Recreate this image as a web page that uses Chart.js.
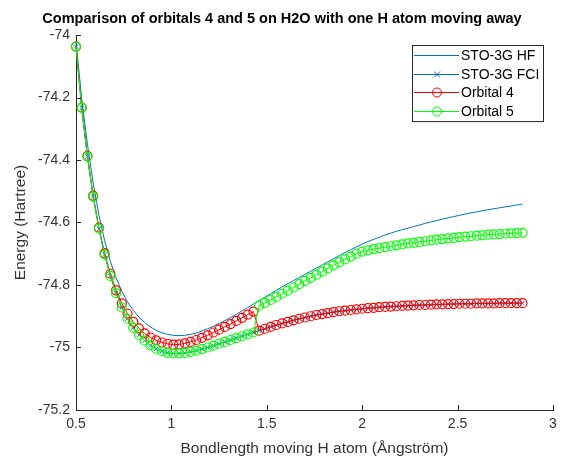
<!DOCTYPE html>
<html>
<head>
<meta charset="utf-8">
<title>Orbitals 4 and 5 on H2O</title>
<script src="https://cdn.jsdelivr.net/npm/chart.js@4/dist/chart.umd.min.js"></script>
<style>
  html, body { margin: 0; padding: 0; background: #fff; }
  canvas { display: block; }
</style>
</head>
<body>
<canvas id="orbitalChart" width="583" height="456"></canvas>
<script>
// bond length of the moving H atom (Å)
const bondLengths = [
  0.50, 0.53, 0.56, 0.59, 0.62, 0.65, 0.68, 0.71, 0.74, 0.77,
  0.80, 0.83, 0.86, 0.89, 0.92, 0.95, 0.98, 1.01, 1.04, 1.07,
  1.10, 1.13, 1.16, 1.19, 1.22, 1.25, 1.28, 1.31, 1.34, 1.37,
  1.40, 1.43, 1.46, 1.49, 1.52, 1.55, 1.58, 1.61, 1.64, 1.67,
  1.70, 1.73, 1.76, 1.79, 1.82, 1.85, 1.88, 1.91, 1.94, 1.97,
  2.00, 2.03, 2.06, 2.09, 2.12, 2.15, 2.18, 2.21, 2.24, 2.27,
  2.30, 2.33, 2.36, 2.39, 2.42, 2.45, 2.48, 2.51, 2.54, 2.57,
  2.60, 2.63, 2.66, 2.69, 2.72, 2.75, 2.78, 2.81, 2.84
];

// energies in Hartree
const hfEnergy = [
  -74.020, -74.205, -74.350, -74.474, -74.576, -74.658, -74.724, -74.777, -74.820, -74.854,
  -74.881, -74.903, -74.920, -74.934, -74.945, -74.953, -74.958, -74.961, -74.962, -74.961,
  -74.958, -74.954, -74.947, -74.940, -74.932, -74.923, -74.914, -74.904, -74.894, -74.883,
  -74.872, -74.861, -74.850, -74.839, -74.828, -74.817, -74.806, -74.796, -74.786, -74.776,
  -74.766, -74.756, -74.746, -74.736, -74.726, -74.716, -74.706, -74.696, -74.687, -74.678,
  -74.669, -74.661, -74.654, -74.647, -74.640, -74.634, -74.628, -74.623, -74.618, -74.613,
  -74.608, -74.603, -74.598, -74.594, -74.589, -74.585, -74.581, -74.577, -74.573, -74.569,
  -74.566, -74.562, -74.559, -74.556, -74.553, -74.550, -74.547, -74.544, -74.541
];

const fciEnergy = [
  -74.037, -74.233, -74.389, -74.517, -74.620, -74.703, -74.771, -74.826, -74.872, -74.908,
  -74.937, -74.960, -74.978, -74.993, -75.004, -75.012, -75.017, -75.019, -75.019, -75.017,
  -75.014, -75.010, -75.005, -75.000, -74.994, -74.988, -74.982, -74.976, -74.970, -74.964,
  -74.958, -74.952, -74.946, -74.940, -74.934, -74.928, -74.923, -74.918, -74.913, -74.908,
  -74.904, -74.900, -74.896, -74.893, -74.890, -74.887, -74.884, -74.882, -74.880, -74.878,
  -74.876, -74.874, -74.873, -74.871, -74.870, -74.869, -74.868, -74.867, -74.866, -74.865,
  -74.864, -74.864, -74.863, -74.862, -74.862, -74.861, -74.861, -74.860, -74.860, -74.860,
  -74.859, -74.859, -74.859, -74.859, -74.858, -74.858, -74.858, -74.858, -74.858
];

const orbital4Energy = [
  -74.037, -74.232, -74.387, -74.514, -74.616, -74.698, -74.764, -74.817, -74.859, -74.892,
  -74.918, -74.939, -74.955, -74.968, -74.977, -74.984, -74.988, -74.991, -74.990, -74.987,
  -74.982, -74.976, -74.969, -74.961, -74.952, -74.943, -74.934, -74.925, -74.915, -74.905,
  -74.895, -74.885, -74.946, -74.940, -74.934, -74.928, -74.923, -74.918, -74.913, -74.908,
  -74.904, -74.900, -74.896, -74.893, -74.890, -74.887, -74.884, -74.882, -74.880, -74.878,
  -74.876, -74.874, -74.873, -74.871, -74.870, -74.869, -74.868, -74.867, -74.866, -74.865,
  -74.864, -74.864, -74.863, -74.862, -74.862, -74.861, -74.861, -74.860, -74.860, -74.860,
  -74.859, -74.859, -74.859, -74.859, -74.858, -74.858, -74.858, -74.858, -74.858
];

const orbital5Energy = [
  -74.037, -74.233, -74.389, -74.517, -74.620, -74.703, -74.771, -74.826, -74.872, -74.908,
  -74.937, -74.960, -74.978, -74.993, -75.004, -75.012, -75.017, -75.019, -75.019, -75.017,
  -75.014, -75.010, -75.005, -75.000, -74.994, -74.988, -74.982, -74.976, -74.970, -74.964,
  -74.958, -74.952, -74.866, -74.857, -74.848, -74.838, -74.828, -74.818, -74.808, -74.797,
  -74.787, -74.777, -74.767, -74.757, -74.747, -74.737, -74.727, -74.718, -74.709, -74.700,
  -74.693, -74.689, -74.685, -74.682, -74.679, -74.676, -74.673, -74.670, -74.667, -74.665,
  -74.662, -74.660, -74.657, -74.655, -74.653, -74.651, -74.649, -74.647, -74.645, -74.644,
  -74.642, -74.641, -74.639, -74.638, -74.637, -74.636, -74.635, -74.634, -74.633
];

const xTicks = [0.5, 1, 1.5, 2, 2.5, 3];
const yTicks = [-74, -74.2, -74.4, -74.6, -74.8, -75, -75.2];

const TITLE = "Comparison of orbitals 4 and 5 on H2O with one H atom moving away";
const AXIS_COLOR = "#262626";
const LABEL_COLOR = "#333333";
const FONT = '"Liberation Sans", Arial, Helvetica, sans-serif';

Chart.defaults.font.family = FONT;

const toPoints = (ys) => bondLengths.map((x, i) => ({ x: x, y: ys[i] }));

// MATLAB-style ticks pointing into the plot area
const insideTicks = {
  id: "insideTicks",
  afterDraw(chart) {
    const { ctx, chartArea } = chart;
    const { x, y } = chart.scales;
    ctx.save();
    ctx.strokeStyle = AXIS_COLOR;
    ctx.lineWidth = 1;
    ctx.beginPath();
    x.ticks.forEach((t) => {
      const px = Math.round(x.getPixelForValue(t.value)) + 0.5;
      ctx.moveTo(px, chartArea.bottom);
      ctx.lineTo(px, chartArea.bottom - 5);
    });
    y.ticks.forEach((t) => {
      const py = Math.round(y.getPixelForValue(t.value)) + 0.5;
      ctx.moveTo(chartArea.left, py);
      ctx.lineTo(chartArea.left + 5, py);
    });
    ctx.stroke();
    ctx.restore();
  },
};

const plotTitle = {
  id: "plotTitle",
  afterDraw(chart) {
    const { ctx } = chart;
    ctx.save();
    ctx.fillStyle = "#000";
    ctx.font = "bold 14.5px " + FONT;
    ctx.textAlign = "center";
    ctx.textBaseline = "middle";
    ctx.fillText(TITLE, 282, 19);
    ctx.restore();
  },
};

function drawMarker(ctx, ds, cx, cy) {
  ctx.strokeStyle = ds.pointBorderColor;
  ctx.lineWidth = 1;
  ctx.beginPath();
  if (ds.pointStyle === "circle") {
    ctx.arc(cx, cy, ds.pointRadius, 0, Math.PI * 2);
  } else if (ds.pointStyle === "crossRot") {
    const r = ds.pointRadius;
    ctx.moveTo(cx - r, cy - r);
    ctx.lineTo(cx + r, cy + r);
    ctx.moveTo(cx + r, cy - r);
    ctx.lineTo(cx - r, cy + r);
  }
  ctx.stroke();
}

// boxed legend in the upper right of the axes
const boxLegend = {
  id: "boxLegend",
  afterDraw(chart) {
    const { ctx } = chart;
    const left = 412, top = 45, width = 131, rowH = 18.7;
    const sets = chart.data.datasets;
    const height = 10 + rowH * (sets.length - 1) + 10;
    ctx.save();
    ctx.fillStyle = "#fff";
    ctx.fillRect(left, top, width, height);
    ctx.strokeStyle = AXIS_COLOR;
    ctx.lineWidth = 1;
    ctx.strokeRect(left + 0.5, top + 0.5, width, height);
    ctx.font = "14px " + FONT;
    ctx.textBaseline = "middle";
    ctx.textAlign = "left";
    sets.forEach((ds, i) => {
      const cy = Math.round(top + 10 + i * rowH) + 0.5;
      ctx.strokeStyle = ds.borderColor;
      ctx.lineWidth = 1;
      ctx.beginPath();
      ctx.moveTo(left + 2, cy);
      ctx.lineTo(left + 47, cy);
      ctx.stroke();
      if (ds.pointRadius > 0) drawMarker(ctx, ds, left + 25, cy);
      ctx.fillStyle = "#000";
      ctx.fillText(ds.label, left + 49, cy + 1);
    });
    ctx.restore();
  },
};

function buildChart() {
  const ctx = document.getElementById("orbitalChart").getContext("2d");

  new Chart(ctx, {
    type: "line",
    data: {
      datasets: [
        {
          label: "STO-3G HF",
          data: toPoints(hfEnergy),
          borderColor: "#0072BD",
          borderWidth: 1,
          pointRadius: 0,
          order: 4,
        },
        {
          label: "STO-3G FCI",
          data: toPoints(fciEnergy),
          borderColor: "#0072BD",
          borderWidth: 1,
          pointStyle: "crossRot",
          pointRadius: 3,
          pointBorderWidth: 1,
          pointBorderColor: "#0072BD",
          pointBackgroundColor: "rgba(0,0,0,0)",
          order: 3,
        },
        {
          label: "Orbital 4",
          data: toPoints(orbital4Energy),
          borderColor: "#FF0000",
          borderWidth: 1,
          pointStyle: "circle",
          pointRadius: 4.5,
          pointBorderWidth: 1.2,
          pointBorderColor: "#FF0000",
          pointBackgroundColor: "rgba(0,0,0,0)",
          order: 2,
        },
        {
          label: "Orbital 5",
          data: toPoints(orbital5Energy),
          borderColor: "#00FF00",
          borderWidth: 1,
          pointStyle: "circle",
          pointRadius: 4.5,
          pointBorderWidth: 1.2,
          pointBorderColor: "#00FF00",
          pointBackgroundColor: "rgba(0,0,0,0)",
          order: 1,
        },
      ],
    },
    options: {
      responsive: false,
      animation: false,
      devicePixelRatio: 1,
      clip: false,
      layout: { padding: { top: 35, right: 30, left: 0, bottom: 0 } },
      elements: { line: { tension: 0 } },
      plugins: {
        legend: { display: false },
        tooltip: { enabled: false },
      },
      scales: {
        x: {
          type: "linear",
          min: 0.5,
          max: 3,
          afterBuildTicks: (scale) => {
            scale.ticks = xTicks.map((v) => ({ value: v }));
          },
          afterFit: (scale) => {
            scale.height = 46;
          },
          ticks: {
            color: LABEL_COLOR,
            font: { size: 14 },
            padding: 6,
            maxRotation: 0,
            callback: (v) => String(v),
          },
          grid: { display: false, drawTicks: false },
          border: { display: true, color: AXIS_COLOR, width: 1 },
          title: {
            display: true,
            text: "Bondlength moving H atom (Ångström)",
            color: LABEL_COLOR,
            font: { size: 15.5 },
            padding: { top: 0, bottom: -2 },
          },
        },
        y: {
          type: "linear",
          min: -75.2,
          max: -74,
          afterBuildTicks: (scale) => {
            scale.ticks = yTicks.map((v) => ({ value: v }));
          },
          afterFit: (scale) => {
            scale.width = 76;
          },
          ticks: {
            color: LABEL_COLOR,
            font: { size: 14 },
            padding: 6,
            callback: (v) => String(v),
          },
          grid: { display: false, drawTicks: false },
          border: { display: true, color: AXIS_COLOR, width: 1 },
          title: {
            display: true,
            text: "Energy (Hartree)",
            color: LABEL_COLOR,
            font: { size: 15.5 },
            padding: { top: 11, bottom: 0 },
          },
        },
      },
    },
    plugins: [insideTicks, plotTitle, boxLegend],
  });
}

document.addEventListener("DOMContentLoaded", buildChart);
</script>
</body>
</html>
